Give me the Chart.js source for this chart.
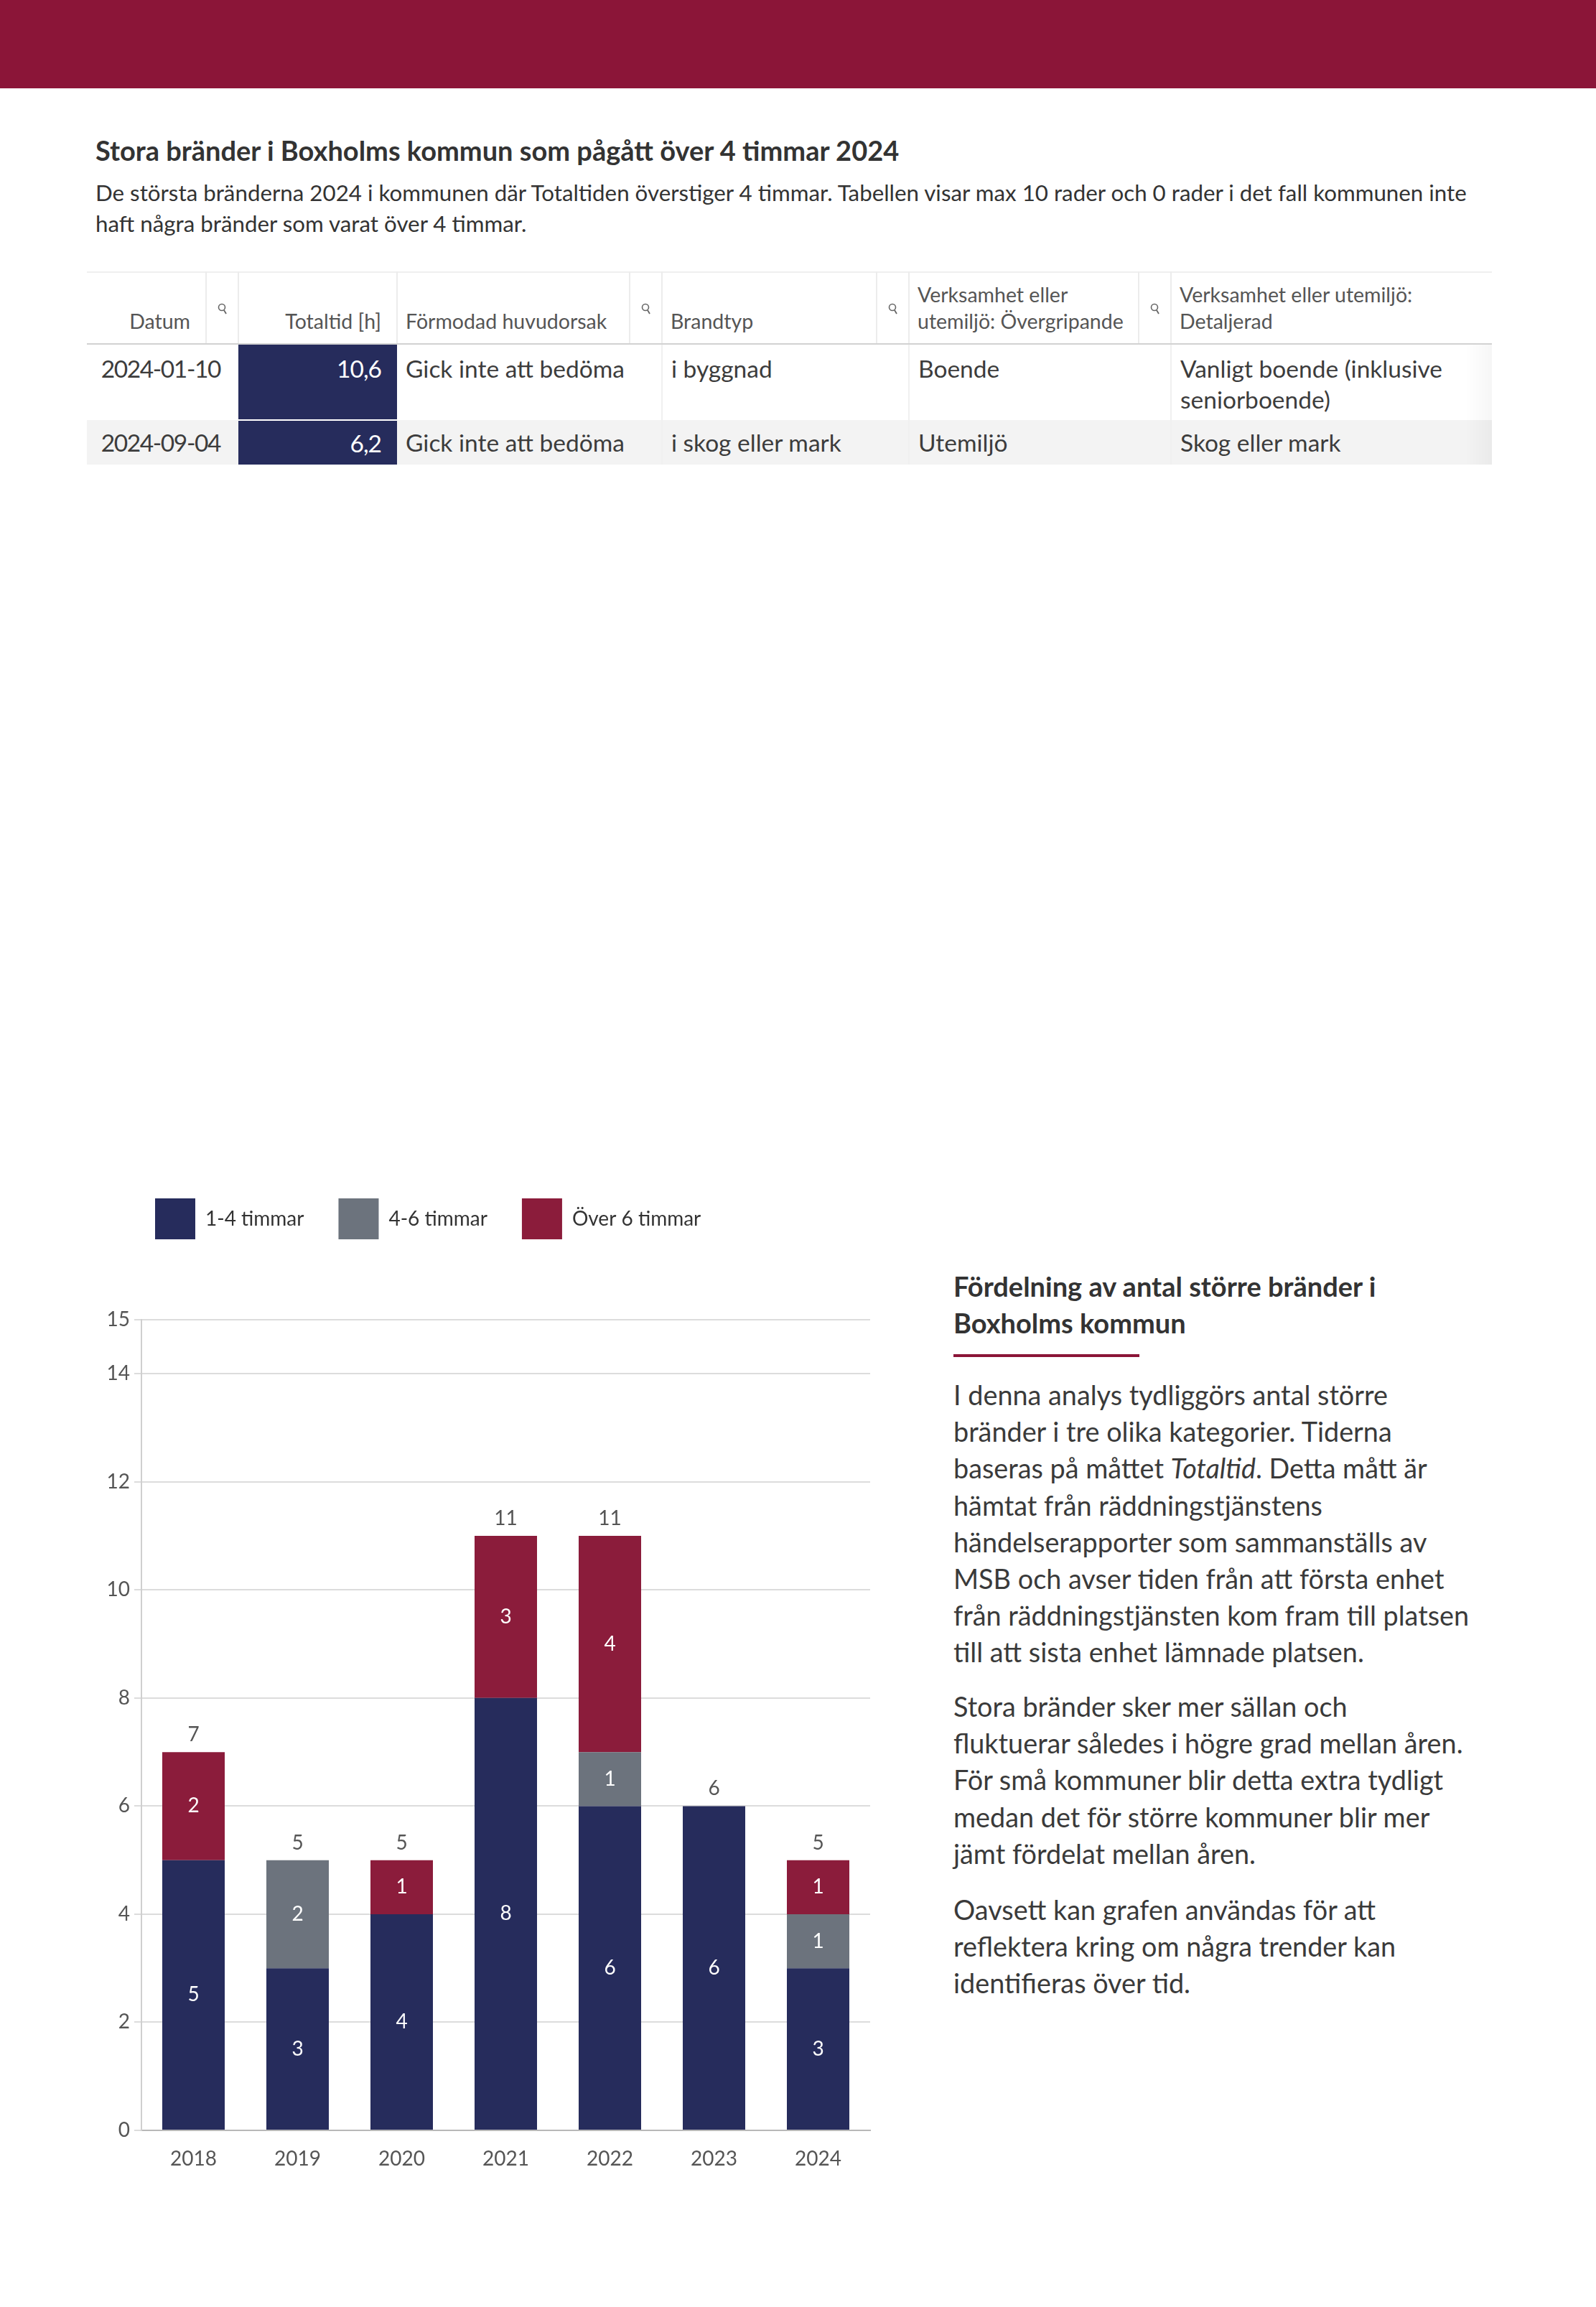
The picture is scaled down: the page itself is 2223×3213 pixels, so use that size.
<!DOCTYPE html>
<html lang="sv">
<head>
<meta charset="utf-8">
<title>Stora bränder i Boxholms kommun</title>
<script src="https://cdn.jsdelivr.net/npm/chart.js@4.4.1/dist/chart.umd.min.js"></script>
<style>
  html, body { margin: 0; padding: 0; background: #fff; }
  body { width: 2223px; height: 3213px; position: relative; overflow: hidden;
         font-family: Lato, "Open Sans", sans-serif; color: #3c3c3c; }
  .band { position: absolute; left: 0; top: 0; width: 2223px; height: 123px; background: #8b1538; }
  .title { position: absolute; left: 133px; top: 187px; margin: 0; font-size: 38px; line-height: 44px;
           font-weight: 700; color: #333; white-space: nowrap; }
  .subtitle { position: absolute; left: 133px; top: 247px; margin: 0; font-size: 31.3px; line-height: 43px;
              color: #333; white-space: nowrap; }

  table.fires { position: absolute; left: 121px; top: 378px; border-collapse: collapse;
                table-layout: fixed; width: 1957px; border-top: 2px solid #efefef; }
  table.fires th { font-weight: 400; font-size: 28.5px; line-height: 37px; color: #555;
                   vertical-align: bottom; padding: 0 11px 12px 11px; text-align: left;
                   border-left: 2px solid #ececec; border-bottom: 2px solid #d2d2d2; white-space: nowrap; }
  table.fires th:first-child { border-left: none; }
  table.fires th.r { text-align: right; padding-right: 21px; }
  table.fires th.icon { padding: 0 0 30px 0; text-align: center; }
  table.fires tr.head { height: 100px; }
  table.fires td { font-size: 33.5px; line-height: 43px; color: #3c3c3c; vertical-align: top;
                   padding: 12px 11px 0 12px; white-space: nowrap; }
  table.fires tr.r1 { height: 106px; }
  table.fires tr.r2 { height: 62px; background: #f3f3f3; }
  table.fires tr.r2 td { padding-top: 10px; }
  table.fires td.date { text-align: right; padding-left: 0; padding-right: 25px; letter-spacing: -1.4px; }
  table.fires td.tot { background: #262c5c; color: #fff; text-align: right; padding-right: 22px; letter-spacing: -1px; }
  table.fires tr.r2 td.tot { border-top: 2px solid #fff; }
  table.fires td.sep { border-left: 2px solid #f0f0f0; }
  table.fires td.last { background-image: linear-gradient(to right, rgba(0,0,0,0) 92%, rgba(0,0,0,0.035)); }

  .chartbox { position: absolute; left: 120px; top: 1621px; width: 1102px; height: 1406px; }

  .side h2 { position: absolute; left: 1328px; top: 1766px; margin: 0; font-size: 38px; line-height: 51px;
             font-weight: 700; color: #333; white-space: nowrap; }
  .side .rule { position: absolute; left: 1328px; top: 1886px; width: 259px; height: 4px; background: #8b1538; }
  .side p { position: absolute; left: 1328px; margin: 0; font-size: 37.8px; line-height: 51.2px;
            color: #3a3a3a; white-space: nowrap; }
</style>
</head>
<body>
<div class="band"></div>
<h1 class="title">Stora bränder i Boxholms kommun som pågått över 4 timmar 2024</h1>
<p class="subtitle">De största bränderna 2024 i kommunen där Totaltiden överstiger 4 timmar. Tabellen visar max 10 rader och 0 rader i det fall kommunen inte<br>haft några bränder som varat över 4 timmar.</p>

<table class="fires">
  <colgroup>
    <col style="width:166px"><col style="width:45px"><col style="width:221px"><col style="width:324px">
    <col style="width:45px"><col style="width:299px"><col style="width:45px"><col style="width:320px">
    <col style="width:45px"><col style="width:447px">
  </colgroup>
  <tr class="head">
    <th class="r">Datum</th>
    <th class="icon"><svg width="14" height="18" viewBox="0 0 14 18"><circle cx="6" cy="6" r="4.5" fill="none" stroke="#666" stroke-width="1.6"/><line x1="9" y1="10" x2="12" y2="15" stroke="#666" stroke-width="1.8"/></svg></th>
    <th class="r">Totaltid [h]</th>
    <th>Förmodad huvudorsak</th>
    <th class="icon"><svg width="14" height="18" viewBox="0 0 14 18"><circle cx="6" cy="6" r="4.5" fill="none" stroke="#666" stroke-width="1.6"/><line x1="9" y1="10" x2="12" y2="15" stroke="#666" stroke-width="1.8"/></svg></th>
    <th>Brandtyp</th>
    <th class="icon"><svg width="14" height="18" viewBox="0 0 14 18"><circle cx="6" cy="6" r="4.5" fill="none" stroke="#666" stroke-width="1.6"/><line x1="9" y1="10" x2="12" y2="15" stroke="#666" stroke-width="1.8"/></svg></th>
    <th>Verksamhet eller<br>utemiljö: Övergripande</th>
    <th class="icon"><svg width="14" height="18" viewBox="0 0 14 18"><circle cx="6" cy="6" r="4.5" fill="none" stroke="#666" stroke-width="1.6"/><line x1="9" y1="10" x2="12" y2="15" stroke="#666" stroke-width="1.8"/></svg></th>
    <th>Verksamhet eller utemiljö:<br>Detaljerad</th>
  </tr>
  <tr class="r1">
    <td class="date" colspan="2">2024-01-10</td>
    <td class="tot">10,6</td>
    <td colspan="2">Gick inte att bedöma</td>
    <td class="sep" colspan="2">i byggnad</td>
    <td class="sep" colspan="2">Boende</td>
    <td class="sep last">Vanligt boende (inklusive<br>seniorboende)</td>
  </tr>
  <tr class="r2">
    <td class="date" colspan="2">2024-09-04</td>
    <td class="tot">6,2</td>
    <td colspan="2">Gick inte att bedöma</td>
    <td class="sep" colspan="2">i skog eller mark</td>
    <td class="sep" colspan="2">Utemiljö</td>
    <td class="sep last">Skog eller mark</td>
  </tr>
</table>

<div class="chartbox"><canvas id="fireChart"></canvas></div>

<div class="side">
  <h2>Fördelning av antal större bränder i<br>Boxholms kommun</h2>
  <div class="rule"></div>
  <p style="top:1917px">I denna analys tydliggörs antal större<br>bränder i tre olika kategorier. Tiderna<br>baseras på måttet <em>Totaltid</em>. Detta mått är<br>hämtat från räddningstjänstens<br>händelserapporter som sammanställs av<br>MSB och avser tiden från att första enhet<br>från räddningstjänsten kom fram till platsen<br>till att sista enhet lämnade platsen.</p>
  <p style="top:2351px">Stora bränder sker mer sällan och<br>fluktuerar således i högre grad mellan åren.<br>För små kommuner blir detta extra tydligt<br>medan det för större kommuner blir mer<br>jämt fördelat mellan åren.</p>
  <p style="top:2634px">Oavsett kan grafen användas för att<br>reflektera kring om några trender kan<br>identifieras över tid.</p>
</div>

<script>
// data
const years = ['2018', '2019', '2020', '2021', '2022', '2023', '2024'];
const seriesNames = ['1-4 timmar', '4-6 timmar', 'Över 6 timmar'];
const hours1to4 = [5, 3, 4, 8, 6, 6, 3];
const hours4to6 = [0, 2, 0, 0, 1, 0, 1];
const hoursOver6 = [2, 0, 1, 3, 4, 0, 1];
const seriesColors = ['#262c5c', '#6c737d', '#8b1c3b'];
const yMax = 15;
const yStep = 2;

const totals = years.map((_, i) => hours1to4[i] + hours4to6[i] + hoursOver6[i]);

Chart.defaults.font.family = 'Lato, "Open Sans", sans-serif';

// etiketter i staplarna + summa ovanför
const barLabels = {
    id: 'barLabels',
    afterDatasetsDraw(chart) {
        const ctx = chart.ctx;
        const yScale = chart.scales.y;
        ctx.save();
        ctx.font = '28px Lato, "Open Sans", sans-serif';
        ctx.textAlign = 'center';
        ctx.textBaseline = 'middle';
        chart.data.datasets.forEach((ds, i) => {
            chart.getDatasetMeta(i).data.forEach((bar, j) => {
                const v = ds.data[j];
                if (!v) return;
                ctx.fillStyle = '#fff';
                ctx.fillText(String(v), bar.x, (bar.y + bar.base) / 2);
            });
        });
        const meta = chart.getDatasetMeta(0);
        ctx.fillStyle = '#555';
        totals.forEach((t, j) => {
            ctx.fillText(String(t), meta.data[j].x, yScale.getPixelForValue(t) - 24);
        });
        ctx.restore();
    }
};

// legenden: extra luft under och lite indrag från vänster
const legendGap = {
    id: 'legendGap',
    beforeInit(chart) {
        const fit = chart.legend.fit;
        chart.legend.fit = function () {
            fit.call(this);
            this.height += 102;
        };
    },
    afterLayout(chart) {
        chart.legend.left += 48;
        chart.legend.right += 48;
    }
};

new Chart(document.getElementById('fireChart'), {
    type: 'bar',
    data: {
        labels: years,
        datasets: [
            { label: seriesNames[0], data: hours1to4, backgroundColor: seriesColors[0] },
            { label: seriesNames[1], data: hours4to6, backgroundColor: seriesColors[1] },
            { label: seriesNames[2], data: hoursOver6, backgroundColor: seriesColors[2] }
        ]
    },
    options: {
        responsive: true,
        maintainAspectRatio: false,
        animation: false,
        categoryPercentage: 0.6,
        barPercentage: 1,
        layout: { padding: { left: 0, right: 10, top: 0, bottom: 0 } },
        plugins: {
            tooltip: { enabled: false },
            legend: {
                position: 'top',
                align: 'start',
                labels: {
                    boxWidth: 56,
                    boxHeight: 57,
                    padding: 48,
                    color: '#333',
                    font: { size: 28 }
                }
            }
        },
        scales: {
            x: {
                stacked: true,
                grid: { display: false },
                border: { display: true, color: '#b8b8b8', width: 2 },
                ticks: { color: '#555', font: { size: 28 }, padding: 15 },
                afterFit(scale) { scale.height = 60; }
            },
            y: {
                stacked: true,
                min: 0,
                max: yMax,
                grid: { color: '#dcdcdc', lineWidth: 2, tickLength: 10, tickColor: '#dcdcdc' },
                border: { display: true, color: '#cfcfcf', width: 2 },
                ticks: { stepSize: yStep, color: '#555', font: { size: 28 }, padding: 6 },
                afterFit(scale) { scale.width = 77; }
            }
        }
    },
    plugins: [barLabels, legendGap]
});
</script>
</body>
</html>
